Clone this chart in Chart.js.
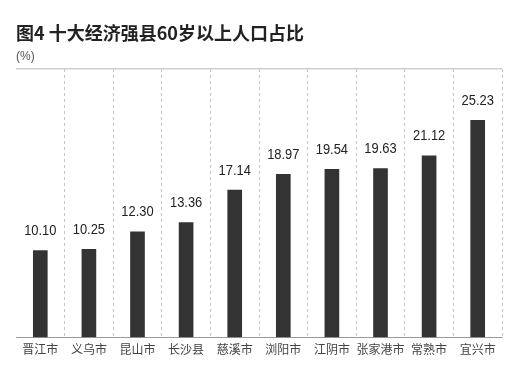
<!DOCTYPE html>
<html>
<head>
<meta charset="utf-8">
<script src="https://cdn.jsdelivr.net/npm/chart.js@4/dist/chart.umd.min.js"></script>
<style>
  html, body { margin: 0; padding: 0; background: #fff; }
  #wrap { width: 526px; height: 384px; }
</style>
</head>
<body>
<div id="wrap"><canvas id="chart"></canvas></div>
<script>
const counties = ['晋江市','义乌市','昆山市','长沙县','慈溪市','浏阳市','江阴市','张家港市','常熟市','宜兴市'];
const shares = [10.10, 10.25, 12.30, 13.36, 17.14, 18.97, 19.54, 19.63, 21.12, 25.23];
const yMax = 31.2;

/* value labels above each bar, squeezed a bit to mimic the condensed face */
const valueLabels = {
  id: 'valueLabels',
  afterDatasetsDraw(chart) {
    const ctx = chart.ctx;
    const meta = chart.getDatasetMeta(0);
    ctx.save();
    ctx.font = '15px "Liberation Sans", sans-serif';
    ctx.fillStyle = '#222';
    ctx.textAlign = 'center';
    ctx.textBaseline = 'bottom';
    meta.data.forEach((bar, i) => {
      ctx.save();
      ctx.translate(bar.x, bar.y - 12);
      ctx.scale(0.86, 1);
      ctx.fillText(shares[i].toFixed(2), 0, 0);
      ctx.restore();
    });
    ctx.restore();
  }
};

new Chart(document.getElementById('chart'), {
  type: 'bar',
  data: {
    labels: counties,
    datasets: [{ data: shares, backgroundColor: '#333333', barThickness: 14 }]
  },
  options: {
    responsive: true,
    maintainAspectRatio: false,
    animation: false,
    layout: { padding: { left: 16, right: 24, top: 0, bottom: 22 } },
    plugins: {
      legend: { display: false },
      tooltip: { enabled: false },
      title: {
        display: true, text: '图4 十大经济强县60岁以上人口占比', align: 'start',
        color: '#222', font: { family: '"Noto Sans CJK SC", sans-serif', size: 18, weight: 'bold' },
        padding: { top: 22, bottom: 6 }
      },
      subtitle: {
        display: true, text: '(%)', align: 'start',
        color: '#555', font: { family: '"Liberation Sans", sans-serif', size: 12 },
        padding: { top: 0, bottom: 5 }
      }
    },
    scales: {
      x: {
        offset: true,
        grid: {
          offset: true, drawTicks: false, lineWidth: 1,
          color: c => (c.index === 0 || c.index === counties.length) ? 'transparent' : '#c4c4c4'
        },
        border: { display: true, color: '#9a9a9a', width: 1, dash: [3, 3] },
        ticks: {
          color: '#444', padding: 5, maxRotation: 0, minRotation: 0, autoSkip: false,
          font: { family: '"Noto Sans CJK SC", sans-serif', size: 12 }
        }
      },
      y: {
        min: 0, max: yMax,
        afterBuildTicks: axis => { axis.ticks = [{ value: 0 }, { value: yMax }]; },
        grid: { drawTicks: false, color: c => c.tick && c.tick.value > 0 ? '#cfcfcf' : 'transparent', lineWidth: 1.5 },
        border: { display: false },
        ticks: { display: false }
      }
    }
  },
  plugins: [valueLabels]
});
</script>
</body>
</html>
